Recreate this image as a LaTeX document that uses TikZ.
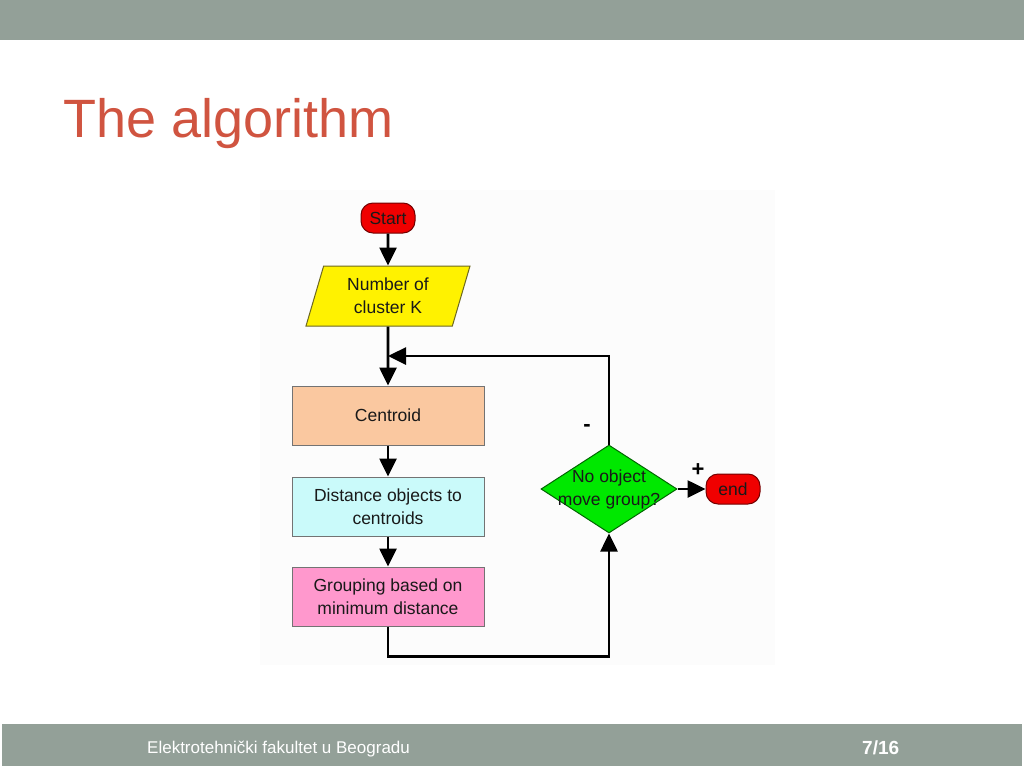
\documentclass[tikz,border=0pt]{standalone}
\usepackage{fontspec}
\setmainfont{Liberation Sans}
\usetikzlibrary{positioning,arrows.meta,shapes.geometric}
\definecolor{barGrey}{RGB}{147,160,152}
\definecolor{titleRed}{RGB}{208,84,64}
\definecolor{peachBox}{RGB}{250,200,160}
\definecolor{cyanBox}{RGB}{202,250,250}
\definecolor{pinkBox}{RGB}{255,152,205}
\definecolor{greenDec}{RGB}{0,232,0}
\definecolor{redTerm}{RGB}{240,0,0}

\begin{document}
\begin{tikzpicture}[x=1pt, y=-1pt,
  font=\fontsize{17.5}{23}\selectfont,
  box/.style={draw=black!55, align=center, text=black!90, inner sep=2pt,
    line width=1pt, minimum width=192pt, minimum height=59pt},
  term/.style={draw=red!45!black, fill=redTerm, rounded corners=12pt,
    text=black!90, inner sep=1pt, line width=1pt, minimum width=54pt, minimum height=30pt},
  inbox/.style={trapezium, trapezium left angle=65, trapezium right angle=115,
    trapezium stretches body, draw=olive!70!black, fill=yellow, align=center,
    text=black!90, line width=1pt, minimum width=164pt, minimum height=60pt, inner sep=1pt},
  decision/.style={diamond, aspect=1.55, draw=green!40!black, fill=greenDec, align=center,
    text=black!90, line width=1pt, minimum width=136pt, minimum height=88pt,
    inner sep=0pt, inner xsep=-17pt},
  arr/.style={-{Triangle[length=18pt,width=17pt]}, line width=2.6pt}
]
\useasboundingbox (0,0) rectangle (1024,768);
% slide frame
\fill[barGrey] (0,0) rectangle (1024,40);
\fill[barGrey] (2,724) rectangle (1022,766);
\node[anchor=base west, text=titleRed, font=\fontsize{54}{60}\selectfont, inner sep=0pt]
  (title) at (63,137) {The algorithm};
\node[anchor=base west, text=white, font=\fontsize{17}{19}\selectfont, inner sep=0pt]
  (footl) at (147,753) {Elektrotehnički fakultet u Beogradu};
\node[anchor=base west, text=white, font=\bfseries\fontsize{19}{21}\selectfont, inner sep=0pt]
  (page) at (862,754) {7/16};
\fill[black!1] (260,190) rectangle (775,665);
% flowchart
\node[term] (start) at (388,218) {Start};
\node[inbox, below=32pt of start] (numk) {Number of\\cluster K};
\node[box, fill=peachBox, below=59pt of numk] (cent) {Centroid};
\node[box, fill=cyanBox, below=31pt of cent] (dist) {Distance objects to\\centroids};
\node[box, fill=pinkBox, below=30pt of dist] (group) {Grouping based on\\minimum distance};
\node[decision] (check) at (609,489) {No object\\move group?};
\node[term, right=28pt of check] (stop) {end};
\path (numk.south) -- (cent.north) coordinate[pos=0.5] (merge);
\draw[arr] (start) -- (numk);
\draw[arr] (numk) -- (cent);
\draw[arr] (cent) -- (dist);
\draw[arr] (dist) -- (group);
\draw[arr] (group.south) -- ++(0,30) -| (check.south);
\draw[arr] (check.north) |- (merge);
\draw[arr] (check) -- (stop);
\node[font=\bfseries\fontsize{22}{24}\selectfont] (minus) at (587,428) {-};
\node[font=\bfseries\fontsize{22}{24}\selectfont] (plus) at (698,470) {+};
\end{tikzpicture}
\end{document}
